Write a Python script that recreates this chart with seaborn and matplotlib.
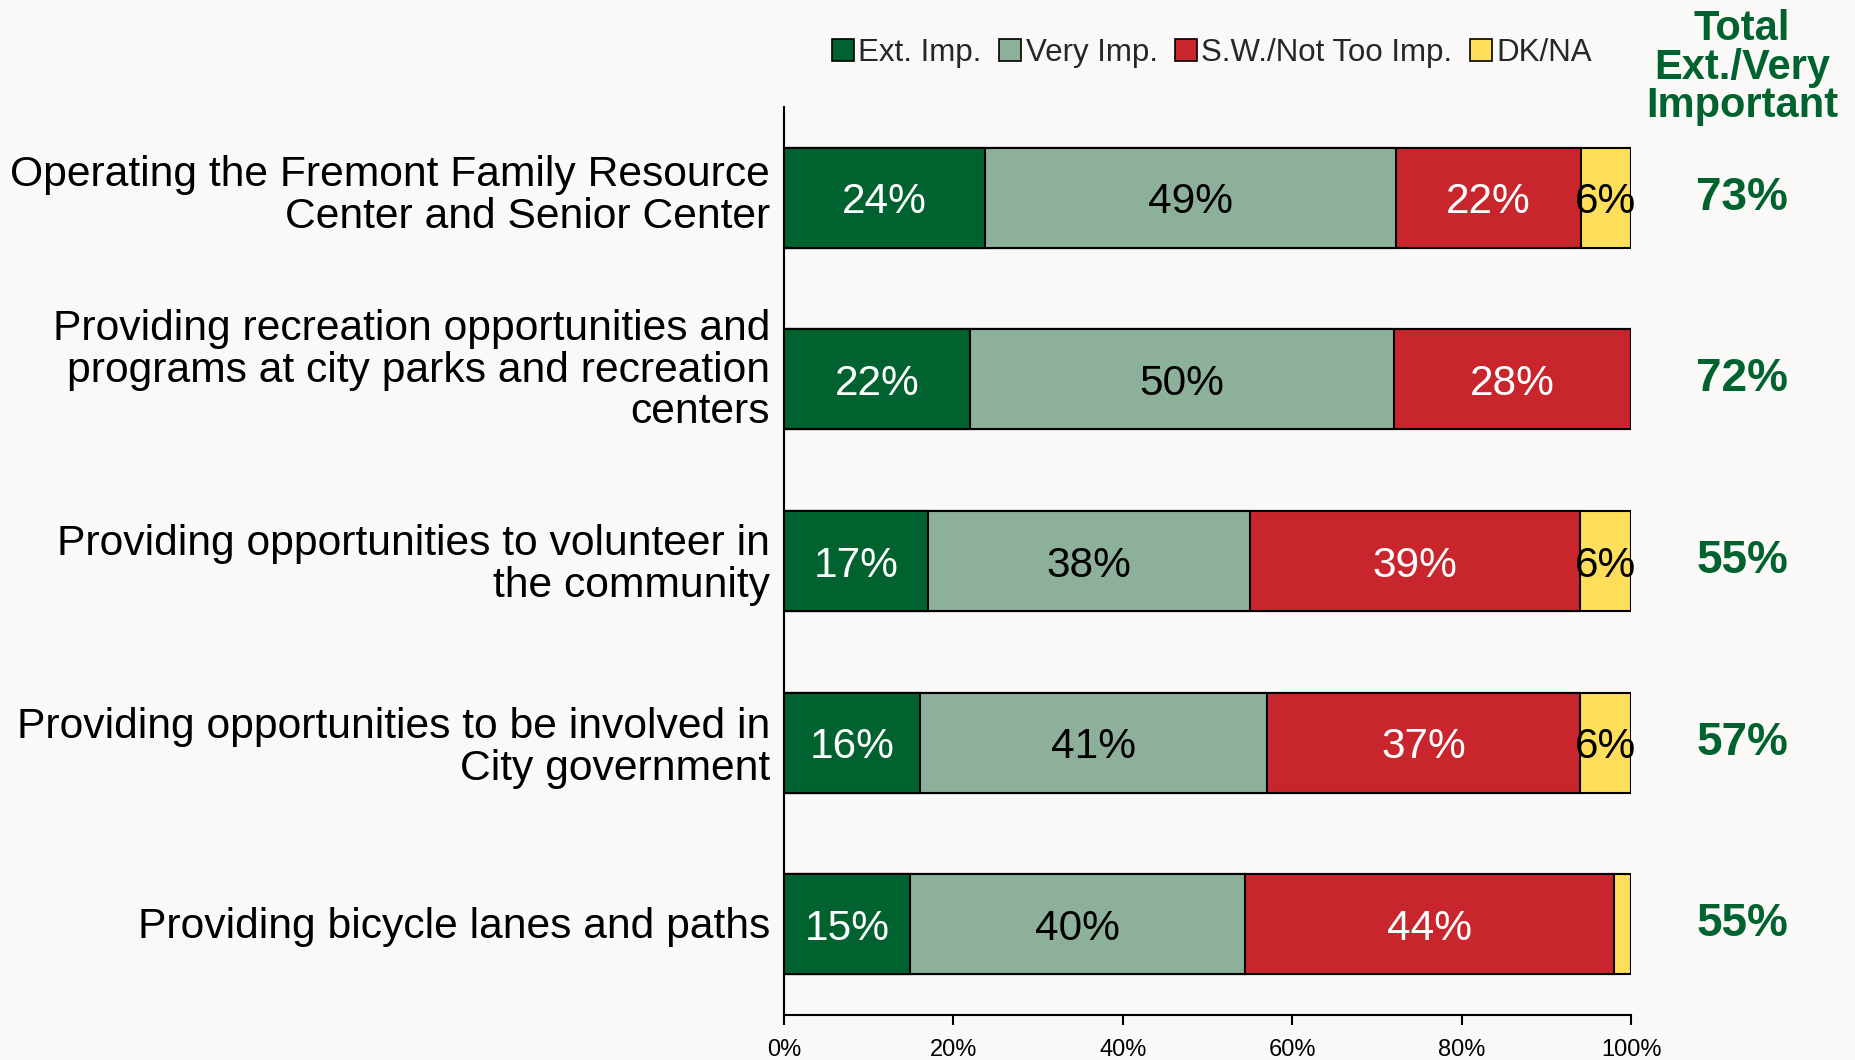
import pandas as pd
import seaborn as sns
import matplotlib.pyplot as plt
from matplotlib.lines import Line2D
from matplotlib.transforms import ScaledTranslation

CATEGORIES = [
    "Operating the Fremont Family Resource\nCenter and Senior Center",
    "Providing recreation opportunities and\nprograms at city parks and recreation\ncenters",
    "Providing opportunities to volunteer in\nthe community",
    "Providing opportunities to be involved in\nCity government",
    "Providing bicycle lanes and paths",
]
SERIES = ["Ext. Imp.", "Very Imp.", "S.W./Not Too Imp.", "DK/NA"]
EXT_IMP = [24, 22, 17, 16, 15]
VERY_IMP = [49, 50, 38, 41, 40]
NOT_TOO_IMP = [22, 28, 39, 37, 44]
DK_NA = [6, 0, 6, 6, 2]
TOTAL_IMP = [73, 72, 55, 57, 55]
X_TICKS = [0, 20, 40, 60, 80, 100]

COLORS = ["#00632f", "#8db09b", "#c9252d", "#ffdf5a"]
TEXT_COLORS = ["white", "black", "white", "black"]
GREEN = "#00632f"
BG = "#faf9f7"
# small vertical nudges (points) for the category labels, as in the original
LABEL_NUDGE = [5, 10, 1, 0, 1]


def main():
    sns.set_theme(style="white")
    plt.rcParams["font.family"] = ["Liberation Sans", "DejaVu Sans"]

    df = pd.DataFrame({
        "item": CATEGORIES,
        SERIES[0]: EXT_IMP,
        SERIES[1]: VERY_IMP,
        SERIES[2]: NOT_TOO_IMP,
        SERIES[3]: DK_NA,
    })
    # bars are drawn as shares of the row total (some rows add to 101)
    shares = df[SERIES].div(df[SERIES].sum(axis=1), axis=0) * 100
    cum = shares.cumsum(axis=1)

    fig = plt.figure(figsize=(18.56, 10.6), dpi=100, facecolor=BG)
    ax = fig.add_axes([0.4224, 0.0425, 0.4564, 0.8565])
    ax.set_facecolor(BG)

    # stacked look: draw cumulative bars from the longest to the shortest
    for i in reversed(range(len(SERIES))):
        layer = pd.DataFrame({"item": CATEGORIES, "value": cum[SERIES[i]].values})
        sns.barplot(data=layer, x="value", y="item", orient="h", color=COLORS[i],
                    saturation=1, width=0.55, edgecolor="black", linewidth=1.5,
                    errorbar=None, ax=ax)

    for i, s in enumerate(SERIES):
        for j in range(len(CATEGORIES)):
            v = df[s][j]
            if v < 5:
                continue
            xc = cum[s][j] - shares[s][j] / 2
            ax.text(xc, j, f"{v}%", ha="center", va="center_baseline",
                    color=TEXT_COLORS[i], fontsize=30.5)

    for j, t in enumerate(TOTAL_IMP):
        ax.text(1.131, j, f"{t}%", transform=ax.get_yaxis_transform(),
                ha="center", va="center", color=GREEN, fontsize=33,
                fontweight="bold")

    fig.text(0.9386, 0.936, "Total\nExt./Very\nImportant", ha="center",
             va="center", color=GREEN, fontsize=30, fontweight="bold",
             linespacing=0.95)

    ax.set_xlim(0, 100)
    ax.set_xticks(X_TICKS)
    ax.set_xticklabels([f"{t}%" for t in X_TICKS])
    ax.set_xlabel("")
    ax.set_ylabel("")
    for side in ["top", "right"]:
        ax.spines[side].set_visible(False)
    for side in ["left", "bottom"]:
        ax.spines[side].set_color("black")
        ax.spines[side].set_linewidth(1.5)
    ax.tick_params(axis="x", bottom=True, length=7, width=1.5, color="black",
                   labelsize=17, pad=10, labelcolor="black")
    ax.tick_params(axis="y", length=0, labelsize=30.7, pad=10, labelcolor="black")
    for lab, dy in zip(ax.get_yticklabels(), LABEL_NUDGE):
        lab.set_linespacing(1.05)
        lab.set_transform(lab.get_transform()
                          + ScaledTranslation(0, dy / 72, fig.dpi_scale_trans))

    handles = [Line2D([], [], marker="s", linestyle="none", markersize=16,
                      markerfacecolor=c, markeredgecolor="black",
                      markeredgewidth=1.2) for c in COLORS]
    fig.legend(handles, SERIES, loc="center", bbox_to_anchor=(0.6525, 0.95),
               ncol=4, frameon=False, fontsize=22.5, handletextpad=0.1,
               columnspacing=0.5, handlelength=0.8)

    fig.savefig("out.png", dpi=100, facecolor=BG)


if __name__ == "__main__":
    main()
